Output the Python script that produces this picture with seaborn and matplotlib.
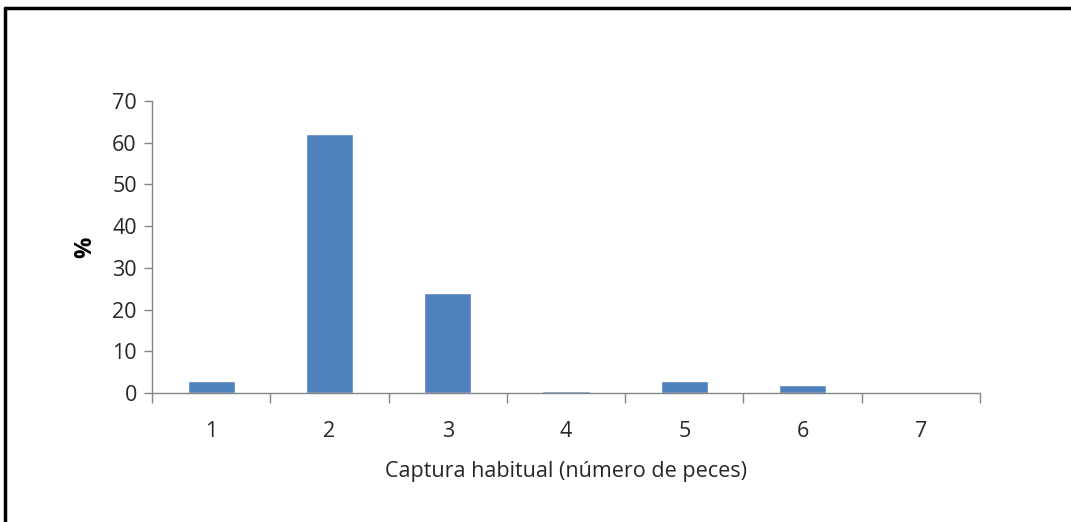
import matplotlib
matplotlib.use("Agg")
import matplotlib.pyplot as plt
import seaborn as sns
import pandas as pd
from matplotlib.lines import Line2D
from matplotlib.ticker import FixedLocator

categories = ["1", "2", "3", "4", "5", "6", "7"]
values = [2.8, 62.0, 24.0, 0.4, 2.8, 1.9, 0.0]
yticks = [0, 10, 20, 30, 40, 50, 60, 70]

sns.set_theme(style="white")
plt.rcParams['font.family'] = ['Open Sans', 'DejaVu Sans']

df = pd.DataFrame({"cat": categories, "val": values})

fig = plt.figure(figsize=(10.71, 5.22), dpi=100)
ax = fig.add_axes([0.142, 0.247, 0.773, 0.560])
sns.barplot(data=df, x="cat", y="val", color="#4F81BD", width=0.4, ax=ax, saturation=1)

ax.set_xlim(-0.5, len(categories) - 0.5)
ax.set_ylim(0, 70)
ax.set_yticks(yticks)
ax.set_yticklabels([str(t) for t in yticks])

gray = "#868686"
for s in ["top", "right"]:
    ax.spines[s].set_visible(False)
for s in ["left", "bottom"]:
    ax.spines[s].set_color(gray)
    ax.spines[s].set_linewidth(1.0)

ax.xaxis.set_minor_locator(FixedLocator([i - 0.5 for i in range(len(categories) + 1)]))
ax.tick_params(axis="x", which="major", length=0, pad=20, labelsize=15.5, labelcolor="#262626")
ax.tick_params(axis="x", which="minor", length=7, width=1, color=gray, direction="out", bottom=True)
ax.tick_params(axis="y", which="major", length=6, width=1, color=gray, direction="out", left=True,
               labelsize=15.5, labelcolor="#262626", pad=5)

ax.set_xlabel("Captura habitual (número de peces)", fontsize=15.5, color="#262626", labelpad=14)
ax.set_ylabel("%", fontsize=17, fontweight="bold", color="#000000", labelpad=11)

# outer frame (left and top borders of the cropped chart area)
fig.add_artist(Line2D([0.005, 0.005], [0, 0.985], transform=fig.transFigure, color="black", lw=2.5))
fig.add_artist(Line2D([0.005, 1.0], [0.985, 0.985], transform=fig.transFigure, color="black", lw=2.5))

fig.savefig("out.png", dpi=100, facecolor="white")
